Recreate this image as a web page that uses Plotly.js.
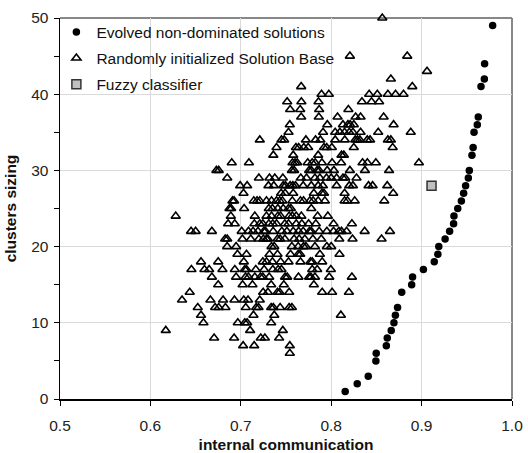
<!DOCTYPE html>
<html>
<head>
<meta charset="utf-8">
<script src="https://cdn.plot.ly/plotly-3.0.1.min.js"></script>
<style>html,body{margin:0;padding:0;background:#fff;}#chart{width:528px;height:453px;}</style>
</head>
<body>
<div id="chart"></div>
<script>
// Evolved non-dominated solutions
const evoX = [0.8155,0.8288,0.841,0.8494,0.8498,0.861,0.862,0.8664,0.8694,0.871,0.8734,0.878,0.889,0.890,0.902,0.914,0.918,0.919,0.926,0.931,0.9354,0.9358,0.94,0.944,0.9465,0.9487,0.9517,0.9528,0.9557,0.957,0.958,0.9616,0.9627,0.9657,0.9694,0.9697,0.9786];
const evoY = [1,2,3,5,6,7,8,9,10,11,12,14,15,16,17,18,19,20,21,22,23,24,25,26,27,28,29,30,32,33,35,36,37,41,42,44,49];

// Fuzzy classifier
const fuzzyX = [0.911];
const fuzzyY = [28];

// Randomly initialized Solution Base: one y level per row, with its x values
const randLevels = [50,45,43,42,41,40,39,38,37,36,35,34,33,32,31,30,29,28,27,26,25,24,23,22,21,20,19,18,17,16,15,14,13,12,11,10,9,8,7,6];
const randXByLevel = [
  [0.8565],
  [0.8207,0.8841],
  [0.906],
  [0.866],
  [0.7668,0.8897],
  [0.7893,0.7974,0.842,0.851,0.8627,0.8712,0.880],
  [0.7513,0.767,0.786,0.834,0.8446,0.853],
  [0.7546,0.7657,0.7867,0.819],
  [0.7668,0.7863,0.807,0.827,0.8325,0.858],
  [0.7542,0.7957,0.813,0.8185,0.821,0.825,0.869],
  [0.7528,0.791,0.8044,0.8096,0.8148,0.82,0.824,0.8325,0.852,0.888],
  [0.721,0.745,0.748,0.772,0.7827,0.788,0.8044,0.815,0.8266,0.829,0.8317,0.8399,0.843,0.8627,0.866],
  [0.7395,0.761,0.764,0.7697,0.7745,0.792,0.795,0.8007,0.825,0.868],
  [0.736,0.758,0.7856,0.8114,0.814],
  [0.690,0.709,0.7572,0.760,0.7624,0.774,0.779,0.7823,0.7897,0.801,0.811,0.8347,0.840,0.8494,0.897],
  [0.673,0.6756,0.7565,0.759,0.7756,0.778,0.7845,0.7867,0.7956,0.803,0.8207,0.8373,0.864],
  [0.685,0.720,0.7317,0.7376,0.7465,0.7664,0.7727,0.782,0.7875,0.7948,0.800,0.806,0.813,0.8155,0.828],
  [0.6993,0.707,0.7306,0.7365,0.7469,0.7494,0.7546,0.7576,0.7605,0.769,0.778,0.7856,0.7908,0.806,0.820,0.824,0.8413,0.8458,0.862],
  [0.703,0.7446,0.749,0.758,0.7808,0.7897,0.792,0.8148,0.8686],
  [0.6908,0.6926,0.7144,0.718,0.721,0.7284,0.734,0.7395,0.743,0.746,0.757,0.766,0.7694,0.7764,0.780,0.7856,0.793,0.8148,0.818,0.826,0.8587],
  [0.6875,0.6893,0.7037,0.731,0.735,0.741,0.7469,0.7528,0.7554,0.778],
  [0.628,0.689,0.7155,0.7284,0.734,0.741,0.744,0.7535,0.757,0.7613,0.767,0.785,0.7963],
  [0.686,0.6933,0.715,0.721,0.7244,0.731,0.7354,0.7395,0.7487,0.7528,0.7613,0.7675,0.775,0.783,0.8026,0.8229],
  [0.645,0.650,0.668,0.701,0.7085,0.7136,0.719,0.7255,0.7273,0.7358,0.7454,0.751,0.758,0.764,0.769,0.776,0.778,0.7867,0.7952,0.8026,0.8085,0.8114,0.817,0.837,0.865],
  [0.6827,0.685,0.7018,0.711,0.72,0.725,0.7284,0.730,0.7406,0.7435,0.7487,0.759,0.7646,0.7708,0.7797,0.789,0.8089,0.8236,0.8557],
  [0.6849,0.6948,0.734,0.737,0.7565,0.7635,0.7694,0.772,0.782,0.7952,0.800],
  [0.6963,0.7063,0.7317,0.7406,0.755,0.7635,0.7657,0.7875,0.8092],
  [0.656,0.675,0.7033,0.7244,0.7284,0.735,0.744,0.7528,0.766,0.777,0.779,0.790],
  [0.6454,0.6598,0.665,0.6797,0.6934,0.7044,0.7063,0.7166,0.7258,0.7354,0.7413,0.745,0.779,0.7845,0.7996],
  [0.668,0.6948,0.7052,0.7085,0.7155,0.7218,0.7244,0.7314,0.749,0.7513,0.7638,0.7756,0.7775,0.782,0.7978,0.8229],
  [0.675,0.702,0.7129,0.7336,0.7476,0.7808],
  [0.6435,0.7247,0.730,0.7406,0.743,0.7535,0.790,0.801,0.8196],
  [0.635,0.6664,0.6804,0.693,0.7033,0.708,0.721],
  [0.6524,0.6716,0.6756,0.683,0.7055,0.717,0.7196,0.7336,0.736,0.7435,0.7535,0.7565],
  [0.656,0.714,0.737,0.8107],
  [0.6587,0.6967,0.7044,0.707,0.7336],
  [0.617,0.7103,0.7465],
  [0.6705,0.6926,0.7221,0.7266,0.7424],
  [0.7026,0.7148,0.7542],
  [0.7542]
];

const xTickVals = [0.5,0.6,0.7,0.8,0.9,1.0];
const xTickText = ["0.5","0.6","0.7","0.8","0.9","1.0"];
const yTickVals = [0,10,20,30,40,50];

const randX = [], randY = [];
randLevels.forEach((lv, i) => {
  randXByLevel[i].forEach(x => { randX.push(x); randY.push(lv); });
});

const FONT = "Liberation Sans, Arial, sans-serif";

const traces = [
  {
    type: "scatter", mode: "markers", name: "Evolved non-dominated solutions",
    x: evoX, y: evoY, legendgroup: "a", cliponaxis: false,
    marker: {symbol: "circle", size: 7.5, color: "#000", line: {width: 0}}
  },
  {
    type: "scatter", mode: "markers", name: "Randomly initialized Solution Base",
    x: randX, y: randY, legendgroup: "b", cliponaxis: false,
    marker: {symbol: "triangle-up-open", size: 8, color: "#000", line: {width: 1.6, color: "#000"}}
  },
  {
    type: "scatter", mode: "markers", name: "Fuzzy classifier",
    x: fuzzyX, y: fuzzyY, legendgroup: "c", cliponaxis: false,
    marker: {symbol: "square", size: 9, color: "#c0c0c0", line: {width: 1.5, color: "#333"}}
  }
];

const layout = {
  width: 528, height: 453,
  margin: {l: 60, r: 16, t: 18, b: 54, pad: 0},
  paper_bgcolor: "#fff", plot_bgcolor: "#fff",
  font: {family: FONT, size: 15, color: "#222"},
  showlegend: true,
  legend: {
    x: -0.008, y: 1.007, xanchor: "left", yanchor: "top",
    bgcolor: "rgba(0,0,0,0)", borderwidth: 0,
    font: {family: FONT, size: 15.5, color: "#111"},
    traceorder: "grouped", tracegroupgap: 3
  },
  xaxis: {
    range: [0.5, 1.0], tickvals: xTickVals, ticktext: xTickText,
    showgrid: true, gridcolor: "#dadada", gridwidth: 1,
    showline: true, linecolor: "#000", linewidth: 1.5,
    ticks: "outside", ticklen: 5, tickcolor: "#000", tickwidth: 1,
    ticklabelstandoff: 7,
    zeroline: false, fixedrange: true,
    tickfont: {family: FONT, size: 15.5, color: "#222"},
    title: {text: "internal communication", standoff: 10,
            font: {family: FONT, size: 15.5, color: "#111", weight: "bold"}}
  },
  yaxis: {
    range: [0, 50], tickvals: yTickVals,
    showgrid: true, gridcolor: "#dadada", gridwidth: 1,
    showline: true, linecolor: "#000", linewidth: 1.5,
    ticks: "outside", ticklen: 5, tickcolor: "#000", tickwidth: 1,
    ticklabelstandoff: 2,
    minor: {dtick: 5, ticks: "outside", ticklen: 5, tickcolor: "#000", showgrid: false},
    zeroline: false, fixedrange: true,
    tickfont: {family: FONT, size: 15.5, color: "#222"},
    title: {text: "clusters sizing", standoff: 10,
            font: {family: FONT, size: 15.5, color: "#111", weight: "bold"}}
  },
  shapes: [
    {type: "rect", xref: "paper", yref: "paper", x0: 0.004, x1: 0.59, y0: 0.812, y1: 0.997,
     fillcolor: "#fff", line: {width: 0}, layer: "between"},
    {type: "line", xref: "paper", yref: "paper", x0: 0, x1: 1, y0: 1, y1: 1,
     line: {color: "#888", width: 2}, layer: "below"},
    {type: "line", xref: "paper", yref: "paper", x0: 1, x1: 1, y0: 0, y1: 1,
     line: {color: "#888", width: 2}, layer: "below"}
  ]
};

Plotly.newPlot("chart", traces, layout, {displayModeBar: false, staticPlot: true});
</script>
</body>
</html>
